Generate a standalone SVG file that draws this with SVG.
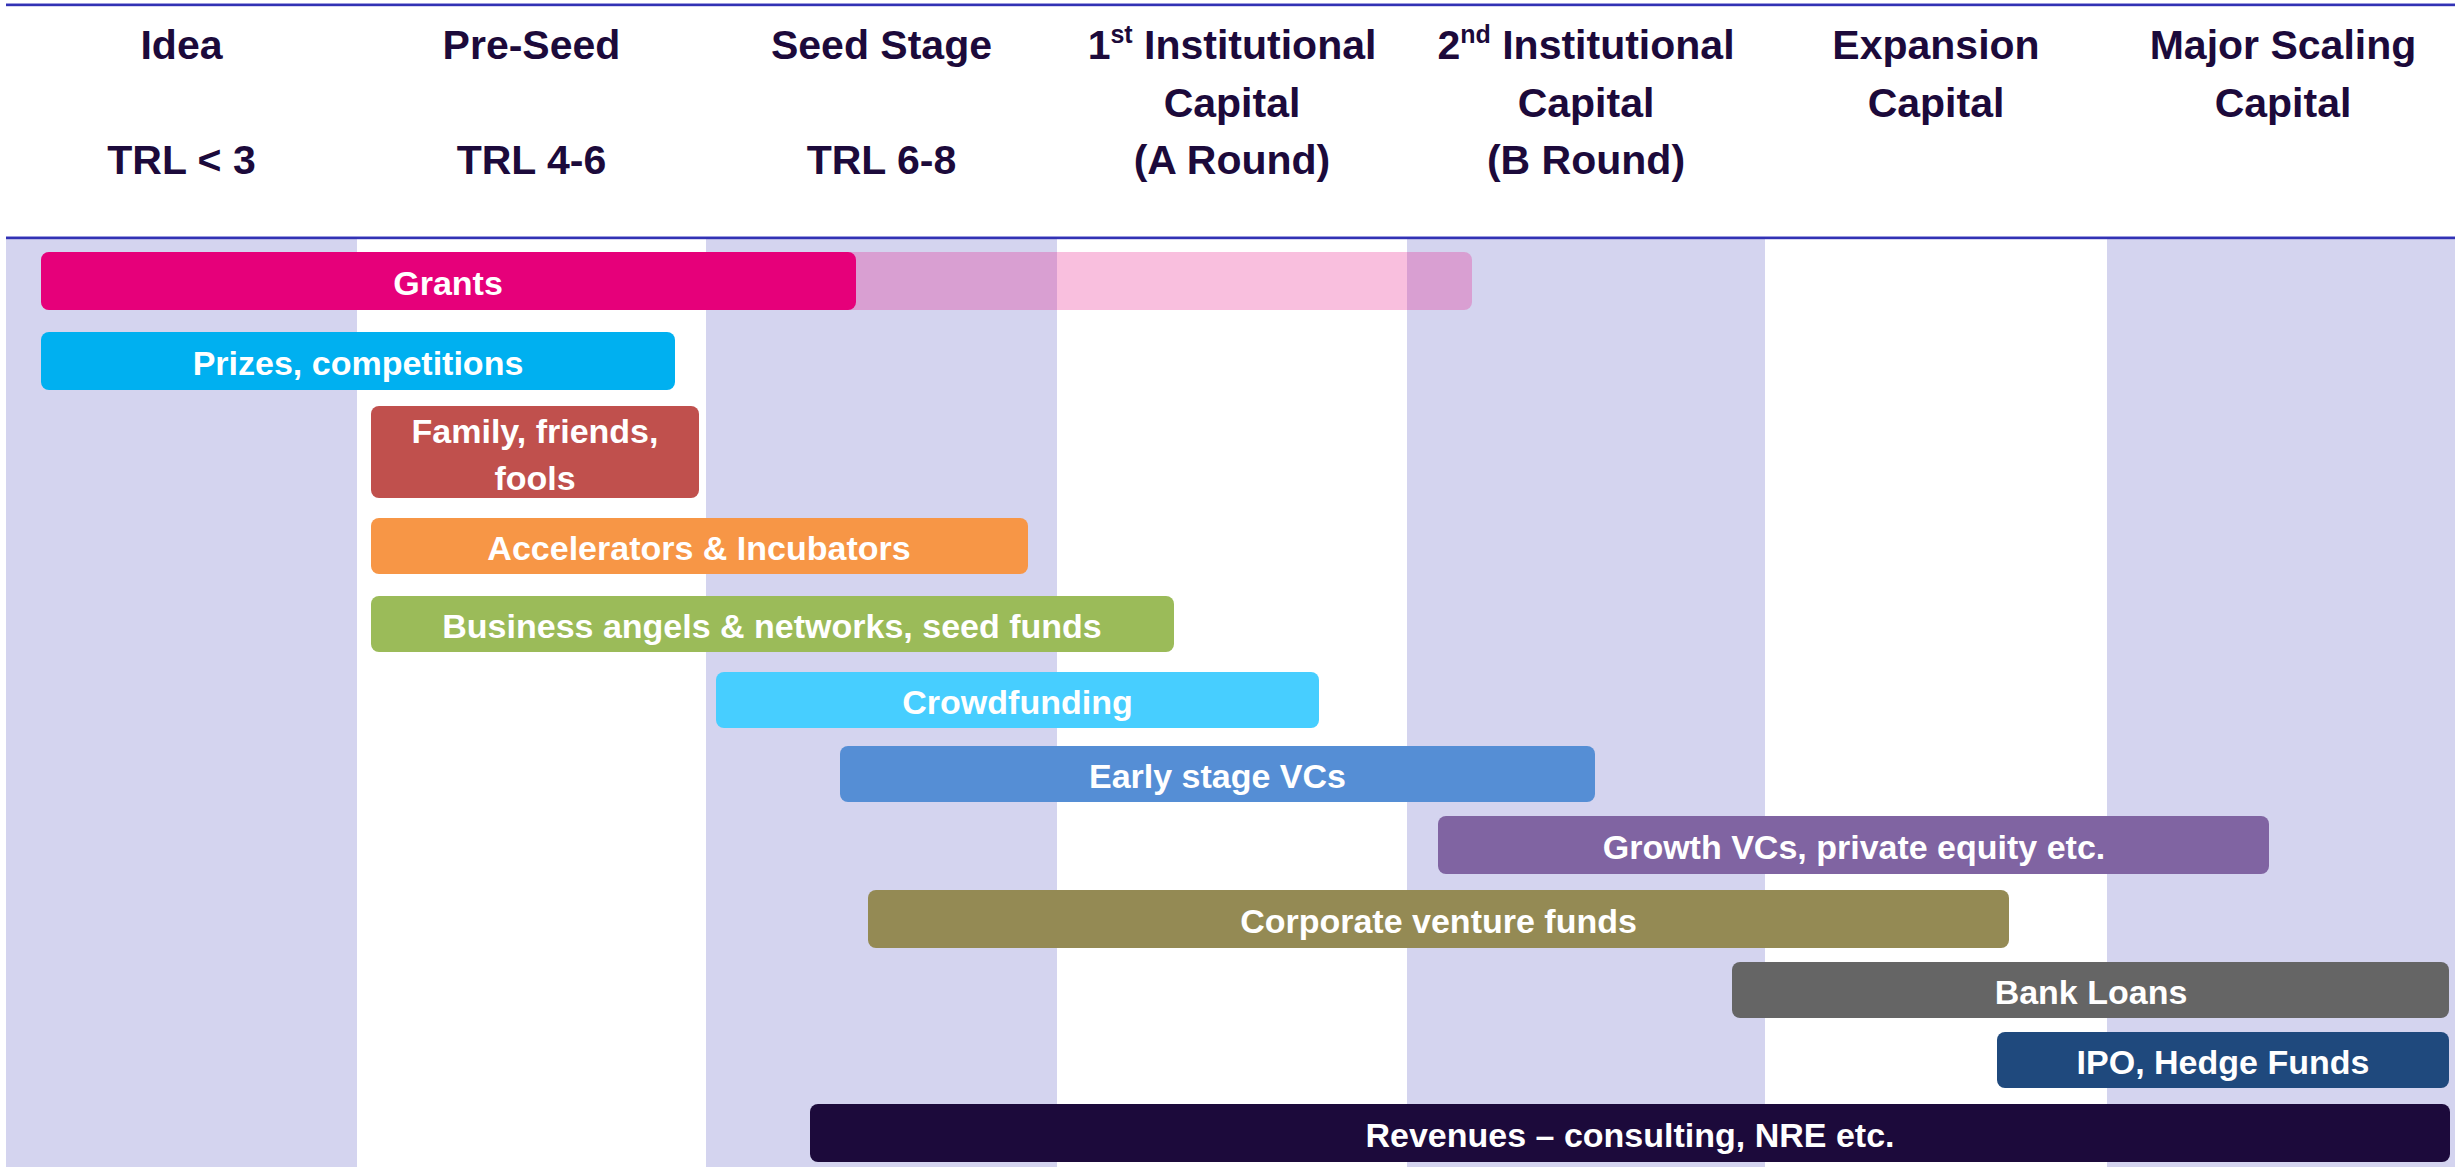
<svg xmlns="http://www.w3.org/2000/svg" width="2455" height="1167" viewBox="0 0 2455 1167">
<style>
.hdr{font-family:"Liberation Sans",Arial,sans-serif;font-weight:bold;font-size:41px;fill:#1C0A3B;text-anchor:middle}
.lbl{font-family:"Liberation Sans",Arial,sans-serif;font-weight:bold;font-size:34px;fill:#FFFFFF;text-anchor:middle}
.band{fill:#D4D4EF}
.bar{rx:8px;ry:8px}
</style>
<rect x="0" y="0" width="2455" height="1167" fill="#FFFFFF"/>
<g id="columns">
<rect class="band" x="6" y="239" width="351" height="928"/>
<rect class="band" x="706" y="239" width="351" height="928"/>
<rect class="band" x="1407" y="239" width="358" height="928"/>
<rect class="band" x="2107" y="239" width="348" height="928"/>
</g>
<g id="rules">
<rect x="6" y="3" width="2449" height="1.2" fill="#9C9CE0"/>
<rect x="6" y="4" width="2449" height="2.2" fill="#3232B4"/>
<rect x="6" y="236" width="2449" height="1.2" fill="#9C9CE0"/>
<rect x="6" y="237" width="2449" height="2.2" fill="#3232B4"/>
</g>
<g id="headers">
<g id="h-idea"><text class="hdr" x="181.5" y="58.7">Idea</text><text class="hdr" x="181.5" y="174">TRL &lt; 3</text></g>
<g id="h-preseed"><text class="hdr" x="531.5" y="58.7">Pre-Seed</text><text class="hdr" x="531.5" y="174">TRL 4-6</text></g>
<g id="h-seed"><text class="hdr" x="881.5" y="58.7">Seed Stage</text><text class="hdr" x="881.5" y="174">TRL 6-8</text></g>
<g id="h-a"><text class="hdr" x="1232" y="58.7">1<tspan font-size="25" dy="-16">st</tspan><tspan dy="16"> Institutional</tspan></text><text class="hdr" x="1232" y="116.7">Capital</text><text class="hdr" x="1232" y="174">(A Round)</text></g>
<g id="h-b"><text class="hdr" x="1586" y="58.7">2<tspan font-size="25" dy="-16">nd</tspan><tspan dy="16"> Institutional</tspan></text><text class="hdr" x="1586" y="116.7">Capital</text><text class="hdr" x="1586" y="174">(B Round)</text></g>
<g id="h-exp"><text class="hdr" x="1936" y="58.7">Expansion</text><text class="hdr" x="1936" y="116.7">Capital</text></g>
<g id="h-major"><text class="hdr" x="2283" y="58.7">Major Scaling</text><text class="hdr" x="2283" y="116.7">Capital</text></g>
</g>
<g id="connectors"></g>
<g id="grants">
<rect class="bar" x="41" y="252" width="1431" height="58" fill="#E6007A" fill-opacity="0.25"/>
<rect class="bar" x="41" y="252" width="815" height="58" fill="#E6007A"/>
<text class="lbl" x="448" y="295">Grants</text>
</g>
<g id="prizes">
<rect class="bar" x="41" y="332" width="634" height="58" fill="#00B0F0"/>
<text class="lbl" x="358" y="375">Prizes, competitions</text>
</g>
<g id="family">
<rect class="bar" x="371" y="406" width="328" height="92" fill="#C0504D"/>
<text class="lbl" x="535" y="443">Family, friends,</text>
<text class="lbl" x="535" y="490">fools</text>
</g>
<g id="accelerators">
<rect class="bar" x="371" y="518" width="657" height="56" fill="#F79646"/>
<text class="lbl" x="699" y="560">Accelerators &amp; Incubators</text>
</g>
<g id="angels">
<rect class="bar" x="371" y="596" width="803" height="56" fill="#9BBB59"/>
<text class="lbl" x="772" y="638">Business angels &amp; networks, seed funds</text>
</g>
<g id="crowdfunding">
<rect class="bar" x="716" y="672" width="603" height="56" fill="#47CEFF"/>
<text class="lbl" x="1017.5" y="714">Crowdfunding</text>
</g>
<g id="earlyvc">
<rect class="bar" x="840" y="746" width="755" height="56" fill="#558ED5"/>
<text class="lbl" x="1217.5" y="788">Early stage VCs</text>
</g>
<g id="growthvc">
<rect class="bar" x="1438" y="816" width="831" height="58" fill="#8064A2"/>
<text class="lbl" x="1854" y="859">Growth VCs, private equity etc.</text>
</g>
<g id="corporate">
<rect class="bar" x="868" y="890" width="1141" height="58" fill="#948A54"/>
<text class="lbl" x="1438.5" y="933">Corporate venture funds</text>
</g>
<g id="bank">
<rect class="bar" x="1732" y="962" width="717" height="56" fill="#656565"/>
<text class="lbl" x="2091" y="1004">Bank Loans</text>
</g>
<g id="ipo">
<rect class="bar" x="1997" y="1032" width="452" height="56" fill="#1F497D"/>
<text class="lbl" x="2223" y="1074">IPO, Hedge Funds</text>
</g>
<g id="revenues">
<rect class="bar" x="810" y="1104" width="1640" height="58" fill="#1C0A3B"/>
<text class="lbl" x="1630" y="1147">Revenues – consulting, NRE etc.</text>
</g>
</svg>
